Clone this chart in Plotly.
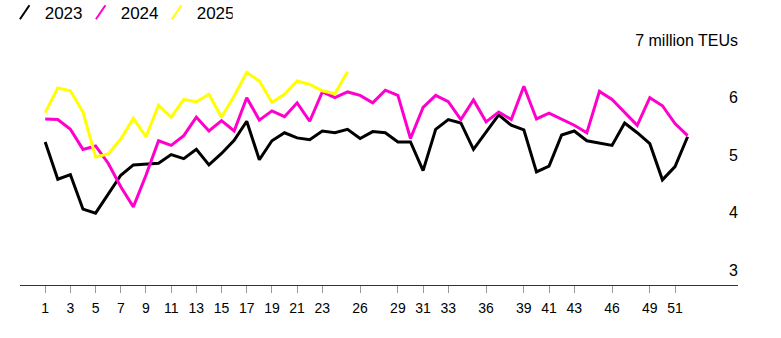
import plotly.graph_objects as go

# Weekly container throughput, million TEUs
weeks = list(range(1, 53))

teu_2023 = [5.23, 4.58, 4.66, 4.06, 3.99, 4.32, 4.65, 4.83, 4.84, 4.86,
            5.01, 4.94, 5.10, 4.83, 5.03, 5.26, 5.59, 4.92, 5.25, 5.39,
            5.30, 5.27, 5.42, 5.39, 5.45, 5.29, 5.41, 5.39, 5.23, 5.23,
            4.73, 5.45, 5.62, 5.56, 5.10, 5.39, 5.70, 5.52, 5.44, 4.71,
            4.81, 5.35, 5.42, 5.25, 5.21, 5.17, 5.56, 5.39, 5.20, 4.57,
            4.80, 5.32]

teu_2024 = [5.63, 5.62, 5.45, 5.10, 5.16, 4.86, 4.45, 4.10, 4.65, 5.25,
            5.17, 5.34, 5.66, 5.42, 5.60, 5.42, 6.00, 5.61, 5.77, 5.67,
            5.91, 5.59, 6.10, 6.00, 6.10, 6.04, 5.91, 6.13, 6.04, 5.29,
            5.83, 6.04, 5.93, 5.62, 5.96, 5.58, 5.75, 5.62, 6.20, 5.63,
            5.73, 5.63, 5.52, 5.39, 6.11, 5.97, 5.75, 5.52, 6.00, 5.86,
            5.55, 5.34]

teu_2025 = [5.74, 6.17, 6.12, 5.75, 4.97, 5.02, 5.28, 5.64, 5.32, 5.87,
            5.66, 5.97, 5.93, 6.06, 5.66, 6.03, 6.44, 6.29, 5.92, 6.06,
            6.29, 6.23, 6.12, 6.07, 6.45]

series_names = ["2023", "2024", "2025"]
series_values = [teu_2023, teu_2024, teu_2025]
series_colors = ["#000000", "#ff00cc", "#ffff00"]

week_ticks = [1, 3, 5, 7, 9, 11, 13, 15, 17, 19, 21, 23, 26, 29, 31, 33,
              36, 39, 41, 43, 46, 49, 51]
y_ticks = [3, 4, 5, 6, 7]
y_tick_text = ["3", "4", "5", "6", "7 million TEUs"]

FONT = "Arial, 'Liberation Sans', Helvetica, sans-serif"

fig = go.Figure()

for name, vals, color in zip(series_names, series_values, series_colors):
    fig.add_trace(go.Scatter(
        x=weeks[:len(vals)], y=vals, mode="lines", name=name,
        line=dict(color=color, width=3), showlegend=False,
        hoverinfo="x+y+name",
    ))

# Legend entries with slanted stroke glyphs
for name, color in zip(series_names, series_colors):
    fig.add_trace(go.Scatter(
        x=[None], y=[None], mode="markers", name=name,
        marker=dict(symbol="line-ne", size=11, angle=-11,
                    line=dict(color=color, width=3)),
        showlegend=True,
    ))

fig.update_layout(
    width=781, height=338,
    margin=dict(l=20, r=43, t=23, b=53, autoexpand=False),
    paper_bgcolor="white", plot_bgcolor="white",
    font=dict(family=FONT, color="#000000"),
    showlegend=True,
    legend=dict(
        orientation="h", xref="container", yref="paper",
        x=0.006, y=1.108, xanchor="left", yanchor="top",
        font=dict(size=17, color="#000000"), itemsizing="constant",
        entrywidth=31, entrywidthmode="pixels",
        bgcolor="rgba(0,0,0,0)", borderwidth=0,
    ),
    xaxis=dict(
        range=[-1, 56], tickmode="array", tickvals=week_ticks,
        ticktext=[str(w) for w in week_ticks],
        showgrid=False, zeroline=False,
        showline=True, linecolor="#333333", linewidth=1,
        ticks="outside", ticklen=7, tickwidth=1, tickcolor="#999999",
        tickfont=dict(size=14, color="#000000"), ticklabelstandoff=3,
    ),
    # value labels sit just left of the right edge of the plot
    yaxis=dict(
        range=[2.74, 7.3], tickmode="array", tickvals=y_ticks,
        ticktext=y_tick_text, side="left", anchor="free", position=1.0,
        showgrid=False, zeroline=False, showline=False, ticks="",
        tickfont=dict(size=16, color="#000000"), ticklabelstandoff=0,
    ),
)

fig.write_html("out.html")
